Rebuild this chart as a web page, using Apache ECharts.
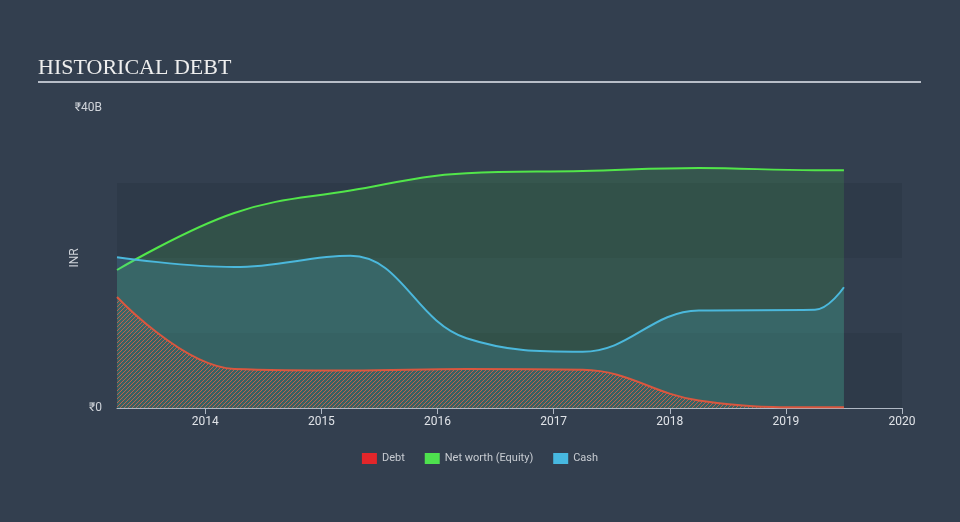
<!DOCTYPE html>
<html>
<head>
<meta charset="utf-8">
<script src="https://cdn.jsdelivr.net/npm/echarts@6/dist/echarts.min.js"></script>
<style>html,body{margin:0;padding:0;background:#333f4f;}#c{width:960px;height:522px;}</style>
</head>
<body>
<div id="c"></div>
<script>
// Data (decimal years, values in billions INR)
const dates = [2013.24, 2014.25, 2015.25, 2016.25, 2017.25, 2018.25, 2019.25, 2019.5];
const debt = [14.8, 5.2, 5.0, 5.2, 5.1, 1.0, 0.1, 0.1];
const equity = [18.4, 26.0, 29.0, 31.3, 31.6, 32.0, 31.7, 31.7];
const cash = [20.1, 18.8, 20.3, 9.3, 7.5, 13.0, 13.1, 16.1];
const xTicks = [2014, 2015, 2016, 2017, 2018, 2019, 2020];

function pair(vals) { return dates.map((d, i) => [d, vals[i]]); }

// hatch pattern for debt
const pc = document.createElement('canvas');
pc.width = 4; pc.height = 4;
const pctx = pc.getContext('2d');
pctx.strokeStyle = 'rgba(214,95,70,0.85)';
pctx.lineWidth = 1;
pctx.beginPath();
pctx.moveTo(0, 4); pctx.lineTo(4, 0);
pctx.moveTo(-1, 1); pctx.lineTo(1, -1);
pctx.moveTo(3, 5); pctx.lineTo(5, 3);
pctx.stroke();

const chart = echarts.init(document.getElementById('c'));
chart.setOption({
  backgroundColor: '#333f4f',
  animation: false,
  title: {
    text: 'HISTORICAL DEBT', left: 33, top: 52,
    textStyle: { fontFamily: 'Liberation Serif', fontSize: 22, fontWeight: 'normal', color: '#eeeeee' }
  },
  graphic: [{
    type: 'line', shape: { x1: 38, y1: 82, x2: 921, y2: 82 },
    style: { stroke: '#b8bec8', lineWidth: 2 }, silent: true
  }],
  legend: {
    bottom: 53, left: 'center', itemWidth: 15, itemHeight: 11, itemGap: 20,
    icon: 'rect',
    textStyle: { color: '#c8ccd2', fontSize: 11, fontFamily: 'Roboto' },
    data: ['Debt', 'Net worth (Equity)', 'Cash']
  },
  grid: { left: 117, right: 58, top: 108, bottom: 114 },
  xAxis: {
    type: 'value', min: 2013.24, max: 2020,
    axisLine: { lineStyle: { color: '#b0b8c4', width: 1 } },
    axisTick: { customValues: xTicks, length: 6, lineStyle: { color: '#b0b8c4' } },
    axisLabel: { customValues: xTicks, color: '#e0e3e8', fontSize: 12, fontFamily: 'Roboto', margin: 8, formatter: v => String(v) },
    splitLine: { show: false }
  },
  yAxis: {
    type: 'value', min: 0, max: 40, interval: 10,
    name: 'INR', nameLocation: 'middle', nameGap: 36, nameRotate: 90, nameMoveOverlap: false,
    nameTextStyle: { color: '#d0d4da', fontSize: 12, fontFamily: 'Roboto' },
    axisLine: { show: false }, axisTick: { show: false },
    axisLabel: {
      color: '#d0d4da', fontSize: 12, fontFamily: 'Roboto', margin: 15,
      formatter: v => v === 0 ? '₹0' : (v === 40 ? '₹40B' : '')
    },
    splitLine: { show: false },
    splitArea: { show: true, areaStyle: { color: ['#2e3a49', '#323e4e', '#2e3a49', 'rgba(0,0,0,0)'] } }
  },
  series: [
    {
      name: 'Debt', type: 'line', data: pair(debt), smooth: 0.4, showSymbol: false, z: 4,
      color: '#e3262a',
      lineStyle: { color: '#d9573f', width: 2 },
      areaStyle: { color: { image: pc, repeat: 'repeat' }, opacity: 1 }
    },
    {
      name: 'Net worth (Equity)', type: 'line', data: pair(equity), smooth: 0.4, showSymbol: false, z: 2,
      color: '#4ee14e',
      lineStyle: { color: '#52e64a', width: 2 },
      areaStyle: { color: 'rgba(78,225,78,0.2)' }
    },
    {
      name: 'Cash', type: 'line', data: pair(cash), smooth: 0.4, showSymbol: false, z: 3,
      color: '#47b8e0',
      lineStyle: { color: '#4bb8dc', width: 2 },
      areaStyle: { color: 'rgba(75,184,220,0.25)' }
    }
  ]
});
</script>
</body>
</html>
